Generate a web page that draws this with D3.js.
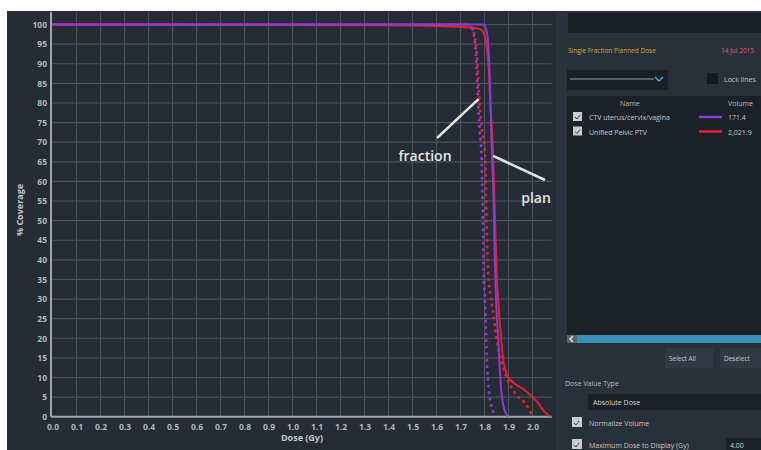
<!DOCTYPE html>
<html>
<head>
<meta charset="utf-8">
<script src="https://cdn.jsdelivr.net/npm/d3@7"></script>
<style>
  html, body { margin: 0; padding: 0; background: #ffffff; }
  svg { display: block; }
  text { font-family: "Open Sans", "DejaVu Sans", sans-serif; }
</style>
</head>
<body>
<svg id="chart" width="761" height="450"></svg>
<script>
// Dose-volume histogram: % coverage vs dose (Gy), plan (solid) and fraction (dotted)
const xTicks = [0.0, 0.1, 0.2, 0.3, 0.4, 0.5, 0.6, 0.7, 0.8, 0.9, 1.0,
                1.1, 1.2, 1.3, 1.4, 1.5, 1.6, 1.7, 1.8, 1.9, 2.0];
const yTicks = [0, 5, 10, 15, 20, 25, 30, 35, 40, 45, 50,
                55, 60, 65, 70, 75, 80, 85, 90, 95, 100];

// CTV uterus/cervix/vagina — planned dose
const ctvPlanDose = [0, 1.79, 1.80, 1.808, 1.815, 1.82, 1.825, 1.83, 1.838, 1.843, 1.848, 1.855, 1.862, 1.868, 1.874, 1.882, 1.89, 1.898];
const ctvPlanPct  = [100, 100, 99.7, 98.5, 95.5, 90, 80, 68, 55, 40, 30, 22, 14, 8, 4.5, 2, 0.7, 0];

// Unified Pelvic PTV — planned dose
const ptvPlanDose = [0, 1.4, 1.6, 1.72, 1.78, 1.795, 1.805, 1.812, 1.818, 1.825, 1.835, 1.843, 1.852, 1.858, 1.865, 1.872, 1.877, 1.885, 1.898, 1.915, 1.93, 1.948, 1.97, 2.0, 2.02, 2.038, 2.055, 2.073];
const ptvPlanPct  = [100, 99.8, 99.6, 99.3, 98.9, 98, 96, 93, 88, 79, 68, 52, 35, 29, 23, 18, 15, 12.5, 10, 9, 8.2, 7.6, 6.6, 5, 3.8, 2.2, 1, 0];

// CTV uterus/cervix/vagina — single fraction
const ctvFracDose = [0, 1.73, 1.745, 1.752, 1.758, 1.763, 1.768, 1.773, 1.78, 1.787, 1.793, 1.798, 1.802, 1.806, 1.809, 1.815, 1.823, 1.832, 1.84, 1.851];
const ctvFracPct  = [100, 100, 99.6, 98.5, 96.5, 94, 88, 81, 73, 67, 50, 34, 30, 22, 15, 9, 4.3, 2, 0.8, 0];

// Unified Pelvic PTV — single fraction
const ptvFracDose = [0, 1.72, 1.74, 1.752, 1.762, 1.768, 1.775, 1.783, 1.792, 1.802, 1.808, 1.816, 1.825, 1.835, 1.851, 1.865, 1.877, 1.895, 1.919, 1.94, 1.969, 1.985, 2.002];
const ptvFracPct  = [100, 100, 99.5, 98.5, 96, 92, 85, 77, 72, 68, 52, 36, 31, 27, 19.5, 15, 12.7, 9.5, 6.8, 5, 3.5, 2, 0];

const structNames   = ["CTV uterus/cervix/vagina", "Unified Pelvic PTV"];
const structVolumes = ["171.4", "2,021.9"];
const structColors  = ["#8a3ad6", "#e3212b"];

const svg = d3.select("#chart");

// page frame
svg.append("rect").attr("x", 7).attr("y", 11).attr("width", 754).attr("height", 439).attr("fill", "#252c35");

const plotLeft = 52.5, plotRight = 551.7, plotTop = 12, plotBottom = 416.7;
const x = d3.scaleLinear().domain([0, 2.08]).range([plotLeft, plotRight]);
const y = d3.scaleLinear().domain([0, 103.2]).range([plotBottom, plotTop]);

// grid
const grid = svg.append("g");
grid.selectAll("line.v").data(xTicks.slice(1)).join("line")
  .attr("x1", d => x(d)).attr("x2", d => x(d))
  .attr("y1", plotTop).attr("y2", plotBottom)
  .attr("stroke", "#4a525c").attr("stroke-width", 1.2);
grid.selectAll("line.h").data(yTicks.slice(1)).join("line")
  .attr("x1", plotLeft).attr("x2", plotRight)
  .attr("y1", d => y(d)).attr("y2", d => y(d))
  .attr("stroke", "#4a525c").attr("stroke-width", 1.2);

// axes
const xAxis = svg.append("g").attr("transform", `translate(0,${plotBottom})`)
  .call(d3.axisBottom(x).tickValues(xTicks).tickFormat(d3.format(".1f")).tickSize(0).tickPadding(7));
const yAxis = svg.append("g").attr("transform", `translate(${plotLeft - 1.5},0)`)
  .call(d3.axisLeft(y).tickValues(yTicks).tickSize(0).tickPadding(4));
[xAxis, yAxis].forEach(a => {
  a.select(".domain").attr("stroke", "#a3a7ab").attr("stroke-width", 2);
  a.selectAll("text").attr("fill", "#b3b6ba").attr("font-size", 8.5).attr("font-weight", 700)
    .attr("font-family", "'DejaVu Sans', sans-serif");
});
xAxis.select(".domain").attr("d", `M${plotLeft - 1.5},0H${plotRight}`);
yAxis.select(".domain").attr("d", `M0,${plotTop}V${plotBottom}`);

svg.append("text").attr("x", 302).attr("y", 441).attr("text-anchor", "middle")
  .attr("fill", "#c4c7ca").attr("font-size", 9).attr("font-weight", 700)
  .attr("font-family", "'DejaVu Sans', sans-serif").text("Dose (Gy)");
svg.append("text").attr("transform", "translate(23,210) rotate(-90)").attr("text-anchor", "middle")
  .attr("fill", "#c4c7ca").attr("font-size", 9).attr("font-weight", 700)
  .attr("font-family", "'DejaVu Sans', sans-serif").text("% Coverage");

// curves: PTV drawn first, CTV over it
const line = d3.line().x(d => x(d[0])).y(d => y(d[1])).curve(d3.curveMonotoneX);
const zip = (a, b) => a.map((v, i) => [v, b[i]]);
const curves = [
  { pts: zip(ptvPlanDose, ptvPlanPct), color: structColors[1], dotted: false },
  { pts: zip(ptvFracDose, ptvFracPct), color: structColors[1], dotted: true, offset: 3.2 },
  { pts: zip(ctvPlanDose, ctvPlanPct), color: structColors[0], dotted: false },
  { pts: zip(ctvFracDose, ctvFracPct), color: structColors[0], dotted: true, offset: 0 }
];
svg.append("clipPath").attr("id", "plotclip").append("rect")
  .attr("x", plotLeft).attr("y", plotTop).attr("width", plotRight - plotLeft + 2).attr("height", plotBottom - plotTop);
svg.append("g").attr("clip-path", "url(#plotclip)")
  .selectAll("path").data(curves).join("path")
  .attr("d", d => line(d.pts))
  .attr("fill", "none")
  .attr("stroke", d => d.color)
  .attr("stroke-width", d => d.dotted ? 3 : 2)
  .attr("stroke-linecap", d => d.dotted ? "round" : "butt")
  .attr("stroke-dasharray", d => d.dotted ? "0.1,6.4" : null)
  .attr("stroke-dashoffset", d => d.dotted ? d.offset : 0);

// annotations
const ann = svg.append("g").attr("fill", "#e4e4e4").attr("stroke", "#e4e4e4");
ann.append("line").attr("x1", 437).attr("y1", 138).attr("x2", x(1.775)).attr("y2", y(81)).attr("stroke-width", 2.5);
ann.append("line").attr("x1", 545).attr("y1", 180).attr("x2", x(1.836)).attr("y2", y(66.5)).attr("stroke-width", 2.5);
ann.append("text").attr("x", 425).attr("y", 161).attr("text-anchor", "middle").attr("stroke", "none")
  .attr("font-size", 14).attr("font-weight", 600).text("fraction");
ann.append("text").attr("x", 536).attr("y", 203).attr("text-anchor", "middle").attr("stroke", "none")
  .attr("font-size", 14).attr("font-weight", 600).text("plan");

// side panel
const panel = svg.append("g");
panel.append("rect").attr("x", 556).attr("y", 11).attr("width", 205).attr("height", 439).attr("fill", "#2b343e");
panel.append("rect").attr("x", 567).attr("y", 11).attr("width", 194).attr("height", 439).attr("fill", "#28303a");
panel.append("rect").attr("x", 568).attr("y", 13).attr("width", 193).attr("height", 20).attr("fill", "#1b2027");
const small = (sel, tx, ty, str, col, size, weight) => sel.append("text").attr("x", tx).attr("y", ty)
  .attr("fill", col).attr("font-size", size || 7).attr("font-weight", weight || 400)
  .attr("font-family", "'DejaVu Sans', sans-serif").text(str);
small(panel, 568, 53, "Single Fraction Planned Dose", "#c9ac3a", 6.5);
small(panel, 721, 53, "14 Jul 2015", "#e05a6a", 6.5);

// dropdown + lock
panel.append("rect").attr("x", 567).attr("y", 70).attr("width", 101).attr("height", 20).attr("fill", "#1a1f25");
panel.append("line").attr("x1", 570).attr("x2", 654).attr("y1", 79).attr("y2", 79).attr("stroke", "#555d66").attr("stroke-width", 2);
panel.append("path").attr("d", "M655,77 l4,4 l4,-4").attr("fill", "none").attr("stroke", "#4aa3d8").attr("stroke-width", 1.5);
panel.append("rect").attr("x", 707).attr("y", 73).attr("width", 11).attr("height", 11).attr("fill", "#161a1f");
small(panel, 724, 82, "Lock lines", "#c0c4c8", 7);

// structure list
panel.append("rect").attr("x", 567).attr("y", 96).attr("width", 194).attr("height", 239).attr("fill", "#1c2128");
small(panel, 620, 106, "Name", "#b9bdc1", 7);
small(panel, 728, 106, "Volume", "#b9bdc1", 7);
structNames.forEach((nm, i) => {
  const ry = 117 + i * 14.5;
  panel.append("rect").attr("x", 573).attr("y", ry - 5).attr("width", 9).attr("height", 9).attr("fill", "#c8ccd0");
  panel.append("path").attr("d", `M575,${ry} l2,2 l3,-4`).attr("fill", "none").attr("stroke", "#444").attr("stroke-width", 1);
  small(panel, 589, ry + 3, nm, "#c4c8cc", 7);
  panel.append("line").attr("x1", 699).attr("x2", 722).attr("y1", ry).attr("y2", ry)
    .attr("stroke", structColors[i]).attr("stroke-width", 2.5);
  small(panel, 728, ry + 3, structVolumes[i], "#c4c8cc", 7);
});

// scrollbar
panel.append("rect").attr("x", 567).attr("y", 335).attr("width", 194).attr("height", 8).attr("fill", "#3b8fb8");
panel.append("rect").attr("x", 567).attr("y", 335).attr("width", 10).attr("height", 8).attr("fill", "#5a646e");
panel.append("path").attr("d", "M573,336 l-3,3 l3,3").attr("fill", "none").attr("stroke", "#e0e0e0").attr("stroke-width", 1.5);

// buttons
panel.append("rect").attr("x", 665).attr("y", 348).attr("width", 48).attr("height", 20).attr("fill", "#313a44");
small(panel, 669, 361, "Select All", "#c4c8cc", 6.5);
panel.append("rect").attr("x", 720).attr("y", 348).attr("width", 45).attr("height", 20).attr("fill", "#313a44");
small(panel, 724, 361, "Deselect", "#c4c8cc", 6.5);

// dose options
small(panel, 565, 386, "Dose Value Type", "#b9bdc1", 7);
panel.append("rect").attr("x", 588).attr("y", 394).attr("width", 173).attr("height", 16).attr("fill", "#1c2127");
small(panel, 593, 405, "Absolute Dose", "#d0d3d6", 7);
[["Normalize Volume", 423], ["Maximum Dose to Display (Gy)", 445]].forEach(([label, ry]) => {
  panel.append("rect").attr("x", 572).attr("y", ry - 6).attr("width", 10).attr("height", 10).attr("fill", "#c8ccd0");
  panel.append("path").attr("d", `M574,${ry} l2,2 l3,-4`).attr("fill", "none").attr("stroke", "#444").attr("stroke-width", 1);
  small(panel, 589, ry + 3, label, "#c4c8cc", 7);
});
panel.append("rect").attr("x", 726).attr("y", 438).attr("width", 35).attr("height", 12).attr("fill", "#1c2127");
small(panel, 730, 448, "4.00", "#d0d3d6", 7);
</script>
</body>
</html>
